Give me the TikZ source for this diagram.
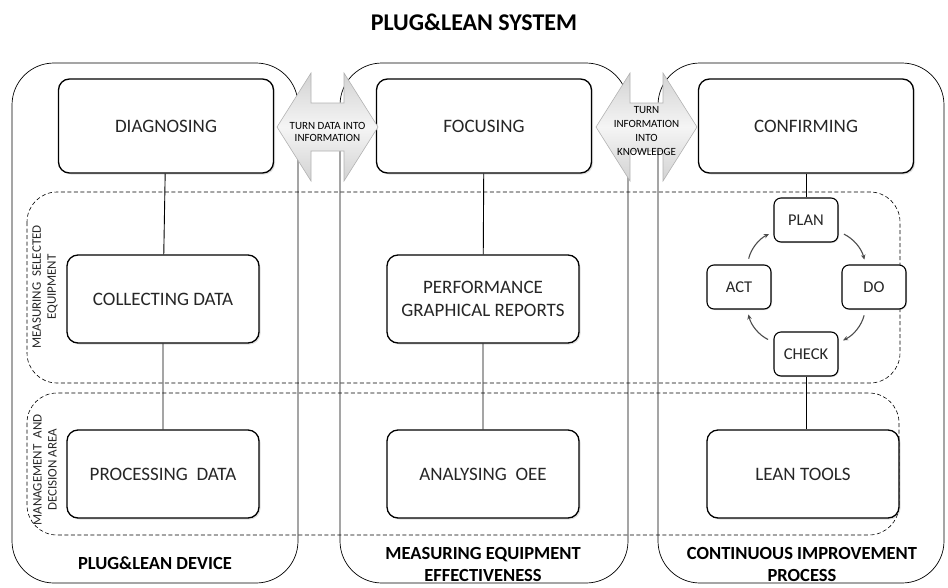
\documentclass[tikz,border=0pt]{standalone}
\usepackage{fontspec}
\setmainfont{Carlito}
\usepackage{tikz}
\usetikzlibrary{arrows.meta,shadows}

\begin{document}
\begin{tikzpicture}[x=1pt, y=-1pt,
  col/.style={draw, line width=0.7pt, rounded corners=42pt},
  area/.style={draw, line width=0.6pt, dash pattern=on 4pt off 2.5pt, rounded corners=30pt},
  box/.style={draw, line width=1.3pt, rounded corners=11pt, fill=white, align=center,
    text=black!85, font=\fontsize{19}{23}\selectfont,
    drop shadow={opacity=0.25, shadow xshift=1.5pt, shadow yshift=-1.5pt}},
  topbox/.style={box, minimum width=215pt, minimum height=94pt},
  midbox/.style={box, minimum width=192pt, minimum height=88pt},
  pdca/.style={draw, line width=1.1pt, rounded corners=7pt, fill=white, text=black!85,
    minimum width=64pt, minimum height=44pt, font=\fontsize{16.5}{18}\selectfont,
    drop shadow={opacity=0.25, shadow xshift=1pt, shadow yshift=-1pt}},
  cyc/.style={gray!60!black, line width=1.1pt, -{Stealth[length=5pt,width=4.5pt]},
    shorten <=6pt, shorten >=5pt},
  link/.style={line width=0.9pt},
  dbl/.style={draw=gray!60, line width=0.6pt, top color=gray!35, bottom color=gray!35, middle color=gray!8},
  side/.style={rotate=90, align=center, text=black!85, font=\fontsize{13}{15}\selectfont},
  foot/.style={align=center, font=\bfseries\fontsize{18.5}{22}\selectfont},
  ]
  \useasboundingbox (0,0) rectangle (948,587);

  \node[font=\bfseries\fontsize{24}{26}\selectfont] (title) at (474,22) {PLUG\&LEAN SYSTEM};

  \draw[area] (27,192) rectangle (900,383);
  \draw[area] (27,393) rectangle (899,535);
  \node[side] (msel) at (45,287) {MEASURING\ \ SELECTED\\EQUIPMENT};
  \node[side] (mdec) at (45,470) {MANAGEMENT\ \ AND\\DECISION AREA};

  \foreach \a/\b in {12/298, 340/628, 658/944} {
    \draw[col] (\a,63) rectangle (\b,583);
  }

  \node[topbox] (diag) at (166,126) {DIAGNOSING};
  \node[topbox] (focus) at (484,126) {FOCUSING};
  \node[topbox] (conf) at (806,126) {CONFIRMING};

  \node[midbox] (coll) at (163,299) {COLLECTING DATA};
  \node[midbox] (perf) at (483,299) {PERFORMANCE\\GRAPHICAL REPORTS};
  \node[midbox] (proc) at (163,474) {PROCESSING\ \ DATA};
  \node[midbox] (anal) at (483,474) {ANALYSING\ \ OEE};
  \node[midbox] (lean) at (803,474) {LEAN TOOLS};

  \node[pdca] (plan) at (806,220) {PLAN};
  \node[pdca] (do) at (874,287) {DO};
  \node[pdca] (check) at (806,354) {CHECK};
  \node[pdca] (act) at (739,287) {ACT};

  \draw[link] (diag) -- (coll) (coll) -- (proc);
  \draw[link] (focus) -- (perf) (perf) -- (anal);
  \draw[link] (conf) -- (plan);
  \draw[link] (check.south) -- (check.south |- lean.north);

  \draw[cyc] (plan) to[bend left=25] (do);
  \draw[cyc] (do) to[bend left=25] (check);
  \draw[cyc] (check) to[bend left=25] (act);
  \draw[cyc] (act) to[bend left=25] (plan);

  \foreach \c in {327.5, 646.5} {
    \draw[dbl] (\c-50.5,127) -- (\c-16.5,73) -- (\c-16.5,103) -- (\c+16.5,103) -- (\c+16.5,73)
      -- (\c+50.5,127) -- (\c+16.5,181) -- (\c+16.5,151) -- (\c-16.5,151) -- (\c-16.5,181) -- cycle;
  }
  \node[align=center, font=\fontsize{11}{12}\selectfont] (dinf) at (327.5,132) {TURN DATA INTO\\INFORMATION};
  \node[align=center, font=\fontsize{11}{14}\selectfont] (ikno) at (646.5,131) {TURN\\INFORMATION\\INTO\\KNOWLEDGE};

  \node[foot] (dev) at (155,563) {PLUG\&LEAN DEVICE};
  \node[foot] (mee) at (483,564) {MEASURING EQUIPMENT\\EFFECTIVENESS};
  \node[foot] (cip) at (802,564) {CONTINUOUS IMPROVEMENT\\PROCESS};
\end{tikzpicture}
\end{document}
